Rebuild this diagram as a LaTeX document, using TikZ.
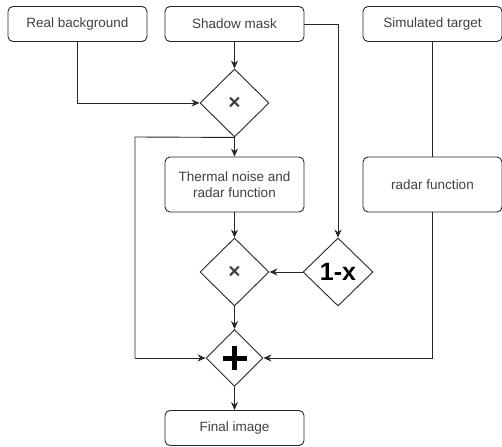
\documentclass[tikz,border=0pt]{standalone}
\usepackage{fontspec}
\setmainfont{Liberation Sans}
\usetikzlibrary{shapes.geometric,arrows.meta}
\begin{document}
\begin{tikzpicture}[x=1pt,y=-1pt,
  box/.style={draw=black!85,line width=0.9pt,rounded corners=5pt,minimum width=139pt,minimum height=35pt,inner sep=0pt,align=center,font=\fontsize{13.5}{16}\selectfont,text=black!75},
  tallbox/.style={box,minimum height=55pt},
  dia/.style={draw=black!85,line width=0.9pt,diamond,inner sep=0pt,minimum width=69pt,minimum height=68pt},
  conn/.style={draw=black!85,line width=0.9pt},
  arr/.style={conn,-{Stealth[length=8pt,width=7pt]}},
  mult/.style={font=\fontsize{21}{21}\selectfont\bfseries,text=black!75}]
\useasboundingbox (0,0) rectangle (502,446);
\node[box] (rb) at (77.5,24) {Real background};
\node[box] (sm) at (234.5,24) {Shadow mask};
\node[box] (st) at (432.5,24) {Simulated target};
\node[dia] (m1) at (234.5,103) {};
\node[mult] (m1t) at (m1.center) {×};
\node[tallbox] (tn) at (234.5,184.5) {Thermal noise and\\radar function};
\node[tallbox] (rf) at (432.5,184.5) {radar function};
\node[dia] (m2) at (234.5,272) {};
\node[mult] (m2t) at (m2.center) {×};
\node[dia,minimum width=70pt] (om) at (338,272) {\fontsize{25}{25}\selectfont\bfseries 1-x};
\node[dia,minimum width=57pt,minimum height=57pt] (pl) at (234.5,358) {};
\fill[black] ([xshift=-12pt,yshift=-2.5pt]pl.center) rectangle ([xshift=12pt,yshift=2.5pt]pl.center);
\fill[black] ([xshift=-2.5pt,yshift=-12pt]pl.center) rectangle ([xshift=2.5pt,yshift=12pt]pl.center);
\node[box] (fi) at (234.5,428) {Final image};
\coordinate (c1) at (135,137);
\coordinate (c2) at (135,358);
\draw[arr] (rb.south) |- (m1.west);
\draw[arr] (sm.south) -- (m1.north);
\draw[arr] (sm.east) -| (om.north);
\draw[arr] (m1.south) -- (tn.north);
\draw[conn] (m1.south) -- (c1) -- (c2);
\draw[arr] (c2) -- (pl.west);
\draw[arr] (tn.south) -- (m2.north);
\draw[arr] (om.west) -- (m2.east);
\draw[arr] (m2.south) -- (pl.north);
\draw[conn] (st.south) -- (rf.north);
\draw[arr] (rf.south) |- (pl.east);
\draw[arr] (pl.south) -- (fi.north);
\end{tikzpicture}
\end{document}
